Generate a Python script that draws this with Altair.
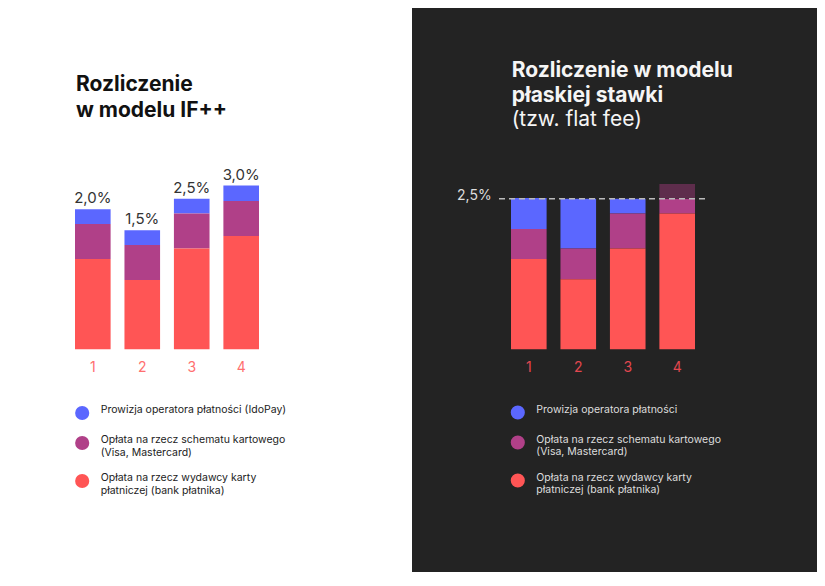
import altair as alt
import pandas as pd

# ---------------- data ----------------
bars = ["1", "2", "3", "4"]

left_series = [
    "Prowizja operatora płatności (IdoPay)",
    "Opłata na rzecz schematu kartowego\n(Visa, Mastercard)",
    "Opłata na rzecz wydawcy karty\npłatniczej (bank płatnika)",
]
right_series = [
    "Prowizja operatora płatności",
    "Opłata na rzecz schematu kartowego\n(Visa, Mastercard)",
    "Opłata na rzecz wydawcy karty\npłatniczej (bank płatnika)",
    "Nadwyżka ponad stawkę",
]

left_blue = [0.21, 0.21, 0.21, 0.22]
left_purple = [0.50, 0.50, 0.50, 0.50]
left_red = [1.29, 0.99, 1.44, 1.62]
left_labels = ["2,0%", "1,5%", "2,5%", "3,0%"]

right_blue = [0.44, 0.71, 0.21, 0.0]
right_purple = [0.43, 0.44, 0.50, 0.21]
right_red = [1.29, 1.00, 1.44, 1.94]
right_over = [0.0, 0.0, 0.0, 0.21]

flat_rate = [2.15]
flat_label = ["2,5%"]

left_title = ["Rozliczenie", "w modelu IF++"]
right_title = ["Rozliczenie w modelu", "płaskiej stawki"]
right_subtitle = "(tzw. flat fee)"

col_blue = "#5b67ff"
col_purple = "#b04088"
col_red = "#ff5555"
col_over = "#5e2d4c"


def long_frame(names, value_lists, stack_pos):
    rows = []
    for name, vals, pos in zip(names, value_lists, stack_pos):
        for b, v in zip(bars, vals):
            if v > 0:
                rows.append({"bar": b, "series": name, "value": v, "layer": pos})
    return pd.DataFrame(rows)


left_df = long_frame(left_series, [left_blue, left_purple, left_red], [2, 1, 0])
right_df = long_frame(right_series, [right_blue, right_purple, right_red, right_over], [2, 1, 0, 3])

left_tot = left_df.groupby("bar", as_index=False)["value"].sum()
left_tot["label"] = left_labels

flat_df = pd.DataFrame({"value": flat_rate, "label": flat_label})
one = pd.DataFrame({"k": [0]})

FONT = "Inter"
H = 564
YBASE = 341.3  # pixel row of the zero line inside the panel
YDOM = [-(H - YBASE) / 70.0, YBASE / 70.0]


def y_enc(field, stack=True):
    return alt.Y(field, scale=alt.Scale(domain=YDOM, nice=False, zero=False), axis=None,
                 stack="zero" if stack else None)


def x_enc(rng, label_color):
    return alt.X("bar:N", sort=bars,
                 scale=alt.Scale(range=rng, paddingInner=0.28, paddingOuter=0),
                 axis=alt.Axis(title=None, domain=False, ticks=False, grid=False, labelAngle=0,
                               labelFont=FONT, labelFontSize=14, labelColor=label_color,
                               labelPadding=11, offset=-(H - YBASE)))


def legend(x, y, color, values):
    return alt.Legend(orient="none", legendX=x, legendY=y, title=None, values=values,
                      symbolType="circle", symbolSize=200, symbolStrokeWidth=0, symbolOpacity=1,
                      labelFont=FONT, labelFontSize=10.5, labelColor=color, labelOffset=11,
                      labelLimit=400, labelBaseline="alphabetic", rowPadding=14, padding=0,
                      labelExpr="split(datum.label, '\\n')")


# ---------------- left panel ----------------
l_bars = alt.Chart(left_df).mark_bar().encode(
    x=x_enc([67, 251], "#ff6f6f"),
    y=y_enc("value:Q"),
    color=alt.Color("series:N",
                    scale=alt.Scale(domain=left_series, range=[col_blue, col_purple, col_red]),
                    legend=legend(66.7, 397.5, "#222222", left_series)),
    order=alt.Order("layer:Q", sort="ascending"),
)
l_text = alt.Chart(left_tot).mark_text(font=FONT, fontSize=15, color="#333333",
                                       baseline="alphabetic", dy=-6).encode(
    x=alt.X("bar:N", sort=bars), y=y_enc("value:Q", stack=False), text="label:N")
l_title = alt.Chart(one).mark_text(text=left_title, font=FONT, fontSize=21, fontWeight="bold",
                                   color="#111111", align="left", baseline="alphabetic",
                                   lineHeight=26).encode(x=alt.value(68), y=alt.value(82.7))

left = alt.layer(l_bars, l_text, l_title).properties(
    width=404, height=H, view=alt.ViewBackground(fill="#ffffff", strokeWidth=0))

# ---------------- right panel ----------------
r_bars = alt.Chart(right_df).mark_bar().encode(
    x=x_enc([99, 283], "#e2474f"),
    y=y_enc("value:Q"),
    color=alt.Color("series:N",
                    scale=alt.Scale(domain=right_series,
                                    range=[col_blue, col_purple, col_red, col_over]),
                    legend=legend(98.3, 397, "#dddddd", right_series[:3])),
    order=alt.Order("layer:Q", sort="ascending"),
)
r_rule = alt.Chart(flat_df).mark_rule(color="#bbbbbb", strokeWidth=1.5, strokeDash=[6, 4]).encode(
    y=y_enc("value:Q", stack=False), x=alt.value(87), x2=alt.value(295))
r_rule_text = alt.Chart(flat_df).mark_text(font=FONT, fontSize=14, color="#dddddd",
                                           align="right", baseline="alphabetic", dy=1).encode(
    y=y_enc("value:Q", stack=False), x=alt.value(79.7), text="label:N")
r_title = alt.Chart(one).mark_text(text=right_title, font=FONT, fontSize=21, fontWeight="bold",
                                   color="#f5f5f5", align="left", baseline="alphabetic",
                                   lineHeight=24.5).encode(x=alt.value(99.7), y=alt.value(69.3))
r_sub = alt.Chart(one).mark_text(text=right_subtitle, font=FONT, fontSize=21, fontWeight="normal",
                                 color="#f5f5f5", align="left", baseline="alphabetic").encode(
    x=alt.value(99.7), y=alt.value(118.3))

right = alt.layer(r_bars, r_rule, r_rule_text, r_title, r_sub).properties(
    width=405, height=H, view=alt.ViewBackground(fill="#232323", strokeWidth=0))

chart = alt.hconcat(left, right, spacing=0, padding=0, background="#ffffff").resolve_scale(
    color="independent").resolve_legend(color="independent").configure_view(
    strokeWidth=0).configure(font=FONT)

chart.save("out.html", embed_options={"renderer": "svg", "actions": False})
